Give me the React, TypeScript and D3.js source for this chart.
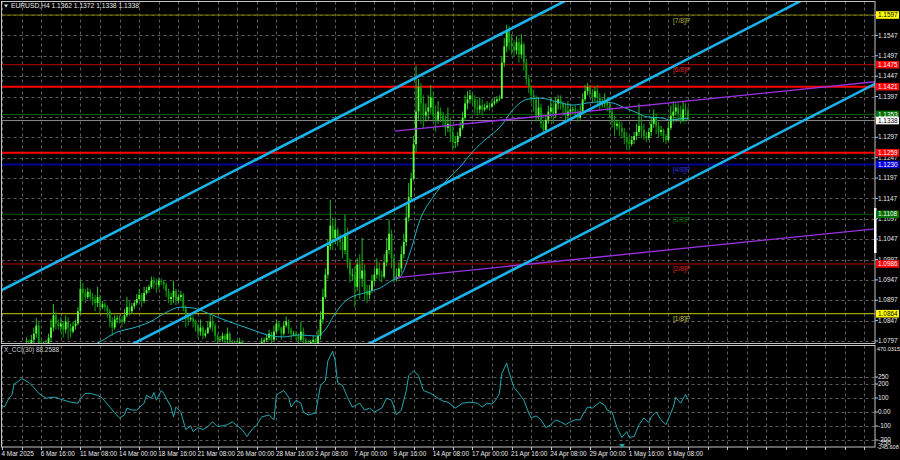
import React from "react";
import * as d3 from "d3";

// ---------- DATA ----------
const symbolTitle = "EURUSD,H4  1.1362 1.1372 1.1338 1.1338";
const cciTitle = "X_CCI(30) 88.2588";
const firstOpen = 1.0485;

// H4 closes, one line per trading day (00,04,08,12,16,20)
const closes = [
  1.0490, 1.0530, 1.0565, 1.0600, 1.0615, 1.0625,
  1.0615, 1.0635, 1.0700, 1.0760, 1.0785, 1.0790,
  1.0800, 1.0815, 1.0835, 1.0790, 1.0780, 1.0785,
  1.0790, 1.0805, 1.0830, 1.0860, 1.0840, 1.0833,
  1.0840, 1.0825, 1.0845, 1.0830, 1.0820, 1.0833,
  1.0840, 1.0870, 1.0925, 1.0915, 1.0905, 1.0918,
  1.0905, 1.0900, 1.0890, 1.0905, 1.0880, 1.0887,
  1.0880, 1.0870, 1.0845, 1.0830, 1.0850, 1.0853,
  1.0850, 1.0845, 1.0860, 1.0880, 1.0870, 1.0882,
  1.0890, 1.0900, 1.0910, 1.0895, 1.0915, 1.0922,
  1.0930, 1.0945, 1.0940, 1.0935, 1.0945, 1.0942,
  1.0935, 1.0920, 1.0900, 1.0905, 1.0920, 1.0897,
  1.0905, 1.0910, 1.0880, 1.0855, 1.0850, 1.0853,
  1.0845, 1.0835, 1.0820, 1.0830, 1.0810, 1.0816,
  1.0830, 1.0845, 1.0835, 1.0810, 1.0800, 1.0801,
  1.0810, 1.0800, 1.0815, 1.0795, 1.0785, 1.0790,
  1.0790, 1.0795, 1.0780, 1.0765, 1.0755, 1.0752,
  1.0760, 1.0745, 1.0765, 1.0780, 1.0795, 1.0799,
  1.0805, 1.0815, 1.0800, 1.0820, 1.0840, 1.0830,
  1.0815, 1.0835, 1.0845, 1.0825, 1.0815, 1.0815,
  1.0810, 1.0800, 1.0820, 1.0800, 1.0790, 1.0790,
  1.0795, 1.0800, 1.0790, 1.0810, 1.0850, 1.0905,
  1.0960, 1.1030, 1.1080, 1.1050, 1.1070, 1.1050,
  1.1040, 1.1020, 1.1060, 1.0990, 1.0960, 1.0960,
  1.0930, 1.0985, 1.0950, 1.0970, 1.0920, 1.0910,
  1.0920, 1.0945, 1.0960, 1.0975, 1.0960, 1.0955,
  1.0990, 1.1020, 1.1060, 1.1000, 1.0950, 1.0955,
  1.0975, 1.1010, 1.1040, 1.1100, 1.1150, 1.1195,
  1.1280, 1.1360, 1.1420, 1.1380, 1.1350, 1.1360,
  1.1370, 1.1395, 1.1350, 1.1340, 1.1360, 1.1350,
  1.1340, 1.1320, 1.1330, 1.1310, 1.1285, 1.1285,
  1.1300, 1.1320, 1.1345, 1.1380, 1.1390, 1.1400,
  1.1390, 1.1370, 1.1365, 1.1375, 1.1365, 1.1370,
  1.1375, 1.1372, 1.1380, 1.1385, 1.1390, 1.1392,
  1.1480, 1.1520, 1.1560, 1.1530, 1.1520, 1.1510,
  1.1530, 1.1500, 1.1525, 1.1480, 1.1440, 1.1420,
  1.1400, 1.1390, 1.1350, 1.1370, 1.1330, 1.1315,
  1.1340, 1.1360, 1.1370, 1.1355, 1.1380, 1.1390,
  1.1380, 1.1370, 1.1350, 1.1360, 1.1365, 1.1365,
  1.1360, 1.1345, 1.1360, 1.1390, 1.1410, 1.1420,
  1.1405, 1.1395, 1.1410, 1.1395, 1.1380, 1.1380,
  1.1385, 1.1375, 1.1360, 1.1335, 1.1325, 1.1330,
  1.1320, 1.1310, 1.1295, 1.1285, 1.1280, 1.1290,
  1.1300, 1.1310, 1.1325, 1.1315, 1.1300, 1.1295,
  1.1310, 1.1330, 1.1345, 1.1325, 1.1310, 1.1315,
  1.1300, 1.1290, 1.1320, 1.1350, 1.1360, 1.1370,
  1.1355, 1.1340, 1.1365, 1.1362, 1.1338,
];

const highs = [
  1.0500, 1.0540, 1.0580, 1.0630, 1.0625, 1.0632,
  1.0630, 1.0645, 1.0710, 1.0790, 1.0806, 1.0800,
  1.0812, 1.0830, 1.0853, 1.0845, 1.0800, 1.0795,
  1.0800, 1.0815, 1.0850, 1.0888, 1.0870, 1.0850,
  1.0855, 1.0845, 1.0860, 1.0855, 1.0840, 1.0845,
  1.0850, 1.0880, 1.0947, 1.0940, 1.0925, 1.0928,
  1.0925, 1.0915, 1.0910, 1.0930, 1.0910, 1.0895,
  1.0892, 1.0885, 1.0875, 1.0855, 1.0860, 1.0860,
  1.0860, 1.0858, 1.0875, 1.0905, 1.0895, 1.0890,
  1.0895, 1.0912, 1.0925, 1.0915, 1.0930, 1.0930,
  1.0935, 1.0955, 1.0954, 1.0950, 1.0952, 1.0950,
  1.0947, 1.0940, 1.0925, 1.0915, 1.0945, 1.0925,
  1.0912, 1.0920, 1.0915, 1.0885, 1.0862, 1.0860,
  1.0860, 1.0850, 1.0840, 1.0850, 1.0835, 1.0825,
  1.0845, 1.0860, 1.0858, 1.0840, 1.0815, 1.0810,
  1.0818, 1.0815, 1.0830, 1.0820, 1.0800, 1.0798,
  1.0800, 1.0805, 1.0800, 1.0785, 1.0770, 1.0760,
  1.0765, 1.0762, 1.0770, 1.0790, 1.0805, 1.0805,
  1.0812, 1.0825, 1.0820, 1.0835, 1.0850, 1.0845,
  1.0832, 1.0845, 1.0857, 1.0850, 1.0830, 1.0822,
  1.0822, 1.0815, 1.0845, 1.0830, 1.0805, 1.0798,
  1.0800, 1.0810, 1.0805, 1.0825, 1.0870, 1.0925,
  1.0975, 1.1045, 1.1144, 1.1100, 1.1095, 1.1075,
  1.1060, 1.1050, 1.1107, 1.1075, 1.1000, 1.0975,
  1.0980, 1.1000, 1.1010, 1.1050, 1.0985, 1.0935,
  1.0935, 1.0960, 1.0975, 1.1000, 1.0990, 1.0970,
  1.1010, 1.1050, 1.1095, 1.1070, 1.1010, 1.0975,
  1.0990, 1.1030, 1.1060, 1.1130, 1.1185, 1.1210,
  1.1300, 1.1473, 1.1440, 1.1430, 1.1400, 1.1380,
  1.1400, 1.1425, 1.1410, 1.1375, 1.1385, 1.1370,
  1.1360, 1.1350, 1.1370, 1.1345, 1.1325, 1.1300,
  1.1310, 1.1335, 1.1360, 1.1400, 1.1410, 1.1413,
  1.1405, 1.1400, 1.1390, 1.1395, 1.1390, 1.1380,
  1.1385, 1.1382, 1.1390, 1.1395, 1.1398, 1.1400,
  1.1495, 1.1540, 1.1573, 1.1570, 1.1550, 1.1535,
  1.1545, 1.1540, 1.1550, 1.1530, 1.1490, 1.1450,
  1.1425, 1.1413, 1.1400, 1.1395, 1.1380, 1.1340,
  1.1350, 1.1375, 1.1395, 1.1385, 1.1395, 1.1400,
  1.1400, 1.1385, 1.1380, 1.1385, 1.1378, 1.1372,
  1.1375, 1.1365, 1.1375, 1.1405, 1.1425, 1.1430,
  1.1425, 1.1415, 1.1420, 1.1425, 1.1405, 1.1392,
  1.1405, 1.1395, 1.1385, 1.1370, 1.1350, 1.1340,
  1.1340, 1.1335, 1.1320, 1.1310, 1.1300, 1.1300,
  1.1310, 1.1330, 1.1380, 1.1350, 1.1330, 1.1310,
  1.1320, 1.1345, 1.1365, 1.1355, 1.1335, 1.1325,
  1.1318, 1.1305, 1.1335, 1.1375, 1.1385, 1.1380,
  1.1380, 1.1375, 1.1385, 1.1380, 1.1372,
];

const lows = [
  1.0470, 1.0485, 1.0520, 1.0560, 1.0590, 1.0605,
  1.0600, 1.0605, 1.0630, 1.0695, 1.0750, 1.0775,
  1.0780, 1.0790, 1.0805, 1.0778, 1.0765, 1.0772,
  1.0775, 1.0780, 1.0795, 1.0820, 1.0825, 1.0825,
  1.0820, 1.0805, 1.0815, 1.0800, 1.0805, 1.0815,
  1.0825, 1.0835, 1.0865, 1.0895, 1.0890, 1.0900,
  1.0895, 1.0885, 1.0870, 1.0880, 1.0865, 1.0875,
  1.0870, 1.0855, 1.0830, 1.0810, 1.0825, 1.0840,
  1.0840, 1.0830, 1.0840, 1.0855, 1.0860, 1.0865,
  1.0875, 1.0885, 1.0895, 1.0880, 1.0890, 1.0910,
  1.0915, 1.0925, 1.0925, 1.0915, 1.0925, 1.0935,
  1.0925, 1.0905, 1.0890, 1.0885, 1.0890, 1.0885,
  1.0890, 1.0895, 1.0870, 1.0830, 1.0835, 1.0845,
  1.0830, 1.0820, 1.0805, 1.0810, 1.0800, 1.0805,
  1.0815, 1.0825, 1.0820, 1.0795, 1.0790, 1.0795,
  1.0795, 1.0785, 1.0790, 1.0780, 1.0775, 1.0780,
  1.0780, 1.0782, 1.0760, 1.0745, 1.0745, 1.0745,
  1.0745, 1.0733, 1.0740, 1.0760, 1.0775, 1.0790,
  1.0795, 1.0798, 1.0790, 1.0795, 1.0815, 1.0822,
  1.0800, 1.0810, 1.0830, 1.0815, 1.0800, 1.0808,
  1.0800, 1.0785, 1.0795, 1.0785, 1.0780, 1.0783,
  1.0780, 1.0785, 1.0778, 1.0785, 1.0800, 1.0840,
  1.0900, 1.0950, 1.1020, 1.1020, 1.1035, 1.1030,
  1.1020, 1.1000, 1.1010, 1.0975, 1.0940, 1.0945,
  1.0880, 1.0920, 1.0900, 1.0930, 1.0895, 1.0890,
  1.0900, 1.0915, 1.0935, 1.0950, 1.0945, 1.0940,
  1.0950, 1.0980, 1.1010, 1.0975, 1.0940, 1.0943,
  1.0950, 1.0965, 1.1000, 1.1030, 1.1090, 1.1140,
  1.1190, 1.1260, 1.1340, 1.1330, 1.1320, 1.1335,
  1.1340, 1.1355, 1.1335, 1.1310, 1.1330, 1.1335,
  1.1325, 1.1300, 1.1310, 1.1285, 1.1265, 1.1270,
  1.1275, 1.1295, 1.1315, 1.1340, 1.1365, 1.1380,
  1.1375, 1.1355, 1.1350, 1.1355, 1.1350, 1.1360,
  1.1365, 1.1362, 1.1368, 1.1375, 1.1380, 1.1385,
  1.1390, 1.1470, 1.1505, 1.1510, 1.1500, 1.1495,
  1.1500, 1.1480, 1.1490, 1.1460, 1.1425, 1.1405,
  1.1380, 1.1360, 1.1335, 1.1340, 1.1320, 1.1305,
  1.1310, 1.1330, 1.1350, 1.1330, 1.1345, 1.1365,
  1.1365, 1.1350, 1.1335, 1.1340, 1.1350, 1.1355,
  1.1345, 1.1335, 1.1340, 1.1355, 1.1385, 1.1400,
  1.1395, 1.1380, 1.1385, 1.1375, 1.1365, 1.1370,
  1.1370, 1.1360, 1.1345, 1.1320, 1.1300, 1.1315,
  1.1300, 1.1295, 1.1280, 1.1265, 1.1266, 1.1275,
  1.1280, 1.1290, 1.1300, 1.1295, 1.1290, 1.1285,
  1.1290, 1.1300, 1.1320, 1.1305, 1.1295, 1.1300,
  1.1285, 1.1280, 1.1285, 1.1315, 1.1335, 1.1350,
  1.1340, 1.1330, 1.1335, 1.1350, 1.1338,
];

// Moving average (bar index, price)
const maBars = [30, 40, 47, 53.5, 60.4, 67.3, 72.7, 78, 83.7, 89, 94.3, 102.4, 108.2, 114.7, 121.6, 128.6, 132.7, 135.1, 140.8, 149, 154.3, 159.6, 162.4, 166.5, 170.6, 175.9, 181.6, 186.9, 192.2, 198, 203.3, 208.6, 214.3, 219.6, 226.5, 233, 238.8, 244.1, 249.4, 253.5, 259.2, 263.3, 269.8, 272.7, 276.7, 280];
const maValues = [1.0770, 1.0795, 1.0819, 1.0829, 1.0844, 1.0868, 1.0880, 1.0878, 1.0866, 1.0853, 1.0841, 1.0824, 1.0812, 1.0807, 1.0812, 1.0809, 1.0831, 1.0856, 1.0898, 1.0917, 1.0927, 1.0947, 1.0954, 1.1013, 1.1094, 1.1150, 1.1192, 1.1224, 1.1262, 1.1295, 1.1322, 1.1365, 1.1390, 1.1393, 1.1384, 1.1376, 1.1381, 1.1384, 1.1381, 1.1371, 1.1357, 1.1347, 1.1344, 1.1339, 1.1342, 1.1344];

// CCI(30) (bar index, value)
const cciBars = [-1, 1, 3, 4, 5, 6, 8, 9, 11, 13, 15, 18, 20, 22, 24, 28, 31, 32, 34, 36, 39, 41, 44, 46, 48, 50, 51, 53, 55, 58, 59, 61, 62, 63, 65, 66, 69, 70, 71, 73, 75, 77, 78, 80, 82, 84, 86, 88, 90, 92, 94, 96, 98, 100, 102, 104, 106, 109, 111, 112, 113, 115, 117, 118, 120, 122, 123, 125, 128, 130, 132, 133, 135, 136, 137, 139, 141, 143, 146, 148, 150, 152, 155, 157, 159, 161, 163, 165, 166, 168, 170, 172, 175, 178, 180, 182, 185, 188, 191, 194, 196, 198, 200, 202, 203, 204, 206, 207, 209, 211, 213, 215, 216, 218, 220, 222, 224, 226, 228, 230, 232, 234, 236, 237, 239, 241, 244, 246, 247, 249, 251, 253, 255, 256, 258, 260, 262, 264, 265, 267, 269, 271, 273, 274, 275, 277, 279, 280];
const cciValues = [63, 35, 105, 119, 203, 210, 238, 231, 210, 175, 133, 98, 105, 105, 91, 70, 63, 98, 133, 133, 119, 98, 35, -7, -42, -21, 28, 14, 14, 63, 119, 98, 140, 84, 154, 133, 35, -35, 35, 0, -126, -98, -140, -112, -126, -105, -70, -105, -98, -91, -70, -98, -126, -175, -126, -91, -35, -21, -56, 119, 133, 154, 105, 35, 84, 63, 0, -21, -7, 189, 224, 364, 434, 364, 210, 189, 105, 35, 63, 14, 28, 0, 28, 98, 84, -21, 14, 154, 259, 294, 259, 154, 133, 98, 77, 70, 28, 63, 70, 63, 35, 63, 56, 98, 133, 273, 350, 280, 175, 133, 84, -7, -42, -28, -56, -112, -91, -56, -70, -91, -70, -56, -56, -21, 35, 28, 70, 49, 14, 0, -112, -182, -140, -182, -175, -91, -42, -77, -35, 0, -56, -91, -7, 35, 105, 63, 126, 88];

// time axis labels, one every 16 bars
const timeLabels = ["4 Mar 2025", "6 Mar 16:00", "11 Mar 08:00", "14 Mar 00:00", "18 Mar 16:00", "21 Mar 08:00", "26 Mar 00:00", "28 Mar 16:00", "2 Apr 08:00", "7 Apr 00:00", "9 Apr 16:00", "14 Apr 08:00", "17 Apr 00:00", "21 Apr 16:00", "24 Apr 08:00", "29 Apr 00:00", "1 May 16:00", "6 May 08:00"];

// price grid levels; only the labels not hidden under a level box are printed
const priceTicks = [1.0797, 1.0847, 1.0897, 1.0947, 1.0997, 1.1047, 1.1097, 1.1147, 1.1197, 1.1247, 1.1297, 1.1347, 1.1397, 1.1447, 1.1497, 1.1547, 1.1597];
const priceTickLabels = [1.0797, 1.0847, 1.0897, 1.0947, 1.0997, 1.1047, 1.1097, 1.1147, 1.1197, 1.1247, 1.1297, 1.1397, 1.1447, 1.1497, 1.1547];
const cciTicks = [250, 200, 100, 0, -100, -200];
const cciTickLabels = ["250", "200", "100", "0.00", "-100", "-200"];
const cciTopLabel = "470.0315";
const cciBottomLabels = ["-250", "-245.608"];

// Murrey levels
const murreyLevels = [1.1597, 1.1475, 1.1353, 1.1230, 1.1108, 1.0986, 1.0864];
const murreyNames = ["[7/8]P", "[6/8]P", "[5/8]P", "[4/8]P", "[3/8]P", "[2/8]P", "[1/8]P"];
const murreyLineColors = ["#7a7a00", "#c00000", "#006400", "#000094", "#005800", "#b00000", "#c8c800"];
const murreyLabelColors = ["#b4b440", "#e02424", "#0a7a0a", "#3434e8", "#0c6e0c", "#e02424", "#c4c450"];
const murreyBoxColors = ["#ffff00", "#ff0000", "#007000", "#0000e0", "#007000", "#ff0000", "#ffff00"];
const murreyBoxText = ["#000", "#fff", "#fff", "#fff", "#fff", "#fff", "#000"];
const murreyWidths = [1, 1, 1, 2, 1, 1, 1];

// support / resistance lines
const srLevels = [1.1421, 1.1259];
const bidPrice = 1.1338;

// channel (3 parallel lines) anchored at bar 0 and bar 230
const channelBars = [0, 230];
const channelStart = [1.0922, 1.0625, 1.0328];
const channelEnd = [1.1632, 1.1335, 1.1038];

// purple trend lines
const purpleBars = [160.4, 355.9];
const purpleStart = [1.1312, 1.0952];
const purpleEnd = [1.1433, 1.1072];

// ---------- CHART ----------
const FONT = "'Liberation Sans', Arial, sans-serif";
const FS = 6.4;
const TXT = "#e8e8e8";
const GRID = "#5c5c5c";

export default function App() {
  const x = d3.scaleLinear().domain([0, 356]).range([2, 2 + 356 * 2.45]);
  const yP = d3.scaleLinear().domain([1.0797, 1.1597]).range([341, 15]);
  const yC = d3.scaleLinear().domain([-250, 478.6]).range([447, 345]);

  const L = 1.5, R = 875, MT = 1.5, MB = 343.5, CT = 345.5, CB = 447;

  const candles = closes.map((c, i) => {
    const o = i === 0 ? firstOpen : closes[i - 1];
    const h = Math.max(highs[i], o, c);
    const l = Math.min(lows[i], o, c);
    return { i, o, h, l, c };
  });

  const maLine = d3
    .line<number>()
    .x((_, k) => x(maBars[k]))
    .y((v) => yP(v))
    .curve(d3.curveMonotoneX);
  const cciLine = d3
    .line<number>()
    .x((_, k) => x(cciBars[k]))
    .y((v) => yC(v));

  const gridBars = d3.range(0, 357, 8);

  const extend = (b0: number, p0: number, b1: number, p1: number, b: number) =>
    p0 + ((p1 - p0) * (b - b0)) / (b1 - b0);

  const bullBody = "#5cff3c";
  const bearBody = "#0c9c0c";
  const wickCol = "#1fc41f";

  return (
    <svg
      width={900}
      height={460}
      style={{ position: "absolute", left: 0, top: 0, background: "#000", display: "block" }}
      fontFamily={FONT}
      fontSize={FS}
    >
      <defs>
        <clipPath id="mainClip">
          <rect x={L} y={MT} width={R - L} height={MB - MT} />
        </clipPath>
        <clipPath id="cciClip">
          <rect x={L} y={CT} width={R - L} height={CB - CT} />
        </clipPath>
      </defs>
      <rect x={0} y={0} width={900} height={460} fill="#000" />

      {/* main grid */}
      <g clipPath="url(#mainClip)" stroke={GRID} strokeWidth={1} strokeDasharray="3,3">
        {priceTicks.map((p) => (
          <line key={"h" + p} x1={L} x2={R} y1={Math.round(yP(p)) + 0.5} y2={Math.round(yP(p)) + 0.5} />
        ))}
        {gridBars.map((b) => (
          <line key={"v" + b} x1={Math.round(x(b)) + 0.5} x2={Math.round(x(b)) + 0.5} y1={MT} y2={MB} />
        ))}
      </g>

      {/* cci grid */}
      <g clipPath="url(#cciClip)" stroke={GRID} strokeWidth={1} strokeDasharray="3,3">
        {cciTicks.map((v) => (
          <line key={"ch" + v} x1={L} x2={R} y1={Math.round(yC(v)) + 0.5} y2={Math.round(yC(v)) + 0.5} />
        ))}
        {gridBars.map((b) => (
          <line key={"cv" + b} x1={Math.round(x(b)) + 0.5} x2={Math.round(x(b)) + 0.5} y1={CT} y2={CB} />
        ))}
      </g>

      <g clipPath="url(#mainClip)">
        {/* murrey levels */}
        {murreyLevels.map((p, k) => (
          <line key={"m" + k} x1={L} x2={R} y1={yP(p)} y2={yP(p)} stroke={murreyLineColors[k]} strokeWidth={murreyWidths[k]} />
        ))}
        {murreyLevels.map((p, k) => (
          <text key={"mt" + k} x={673} y={yP(p) + 7.5} fill={murreyLabelColors[k]} fontSize={6.6}>
            {murreyNames[k]}
          </text>
        ))}
        {/* support / resistance */}
        {srLevels.map((p) => (
          <line key={"sr" + p} x1={L} x2={R} y1={yP(p)} y2={yP(p)} stroke="#ff0000" strokeWidth={2} />
        ))}
        {/* bid line */}
        <line x1={L} x2={R} y1={yP(bidPrice)} y2={yP(bidPrice)} stroke="#8a8a8a" strokeWidth={1} />

        {/* candles */}
        {candles.map((d) => {
          const cx = x(d.i);
          const top = yP(Math.max(d.o, d.c));
          const bot = yP(Math.min(d.o, d.c));
          const up = d.c >= d.o;
          return (
            <g key={"c" + d.i}>
              <line x1={cx} x2={cx} y1={yP(d.h)} y2={yP(d.l)} stroke={up ? wickCol : bearBody} strokeWidth={1} />
              <rect x={cx - 0.9} y={top} width={1.8} height={Math.max(0.8, bot - top)} fill={up ? bullBody : bearBody} />
            </g>
          );
        })}

        {/* moving average */}
        <path d={maLine(maValues) || ""} fill="none" stroke="#22b4c4" strokeWidth={1} />

        {/* purple trend lines */}
        {purpleStart.map((p0, k) => (
          <line
            key={"pl" + k}
            x1={x(purpleBars[0])}
            y1={yP(p0)}
            x2={x(360)}
            y2={yP(extend(purpleBars[0], p0, purpleBars[1], purpleEnd[k], 360))}
            stroke="#9b30e0"
            strokeWidth={1.4}
          />
        ))}

        {/* channel lines */}
        {channelStart.map((p0, k) => (
          <line
            key={"ch" + k}
            x1={x(-5)}
            y1={yP(extend(channelBars[0], p0, channelBars[1], channelEnd[k], -5))}
            x2={x(360)}
            y2={yP(extend(channelBars[0], p0, channelBars[1], channelEnd[k], 360))}
            stroke="#1ab4ec"
            strokeWidth={2.6}
          />
        ))}
      </g>

      {/* CCI line */}
      <g clipPath="url(#cciClip)">
        <path d={cciLine(cciValues) || ""} fill="none" stroke="#23a9b1" strokeWidth={1} />
      </g>

      {/* frames */}
      <rect x={L} y={MT} width={R - L} height={MB - MT} fill="none" stroke="#c4c4c4" strokeWidth={1} />
      <rect x={L} y={CT} width={R - L} height={CB - CT} fill="none" stroke="#c4c4c4" strokeWidth={1} />
      <rect x={874} y={208} width={2.5} height={45} fill="#ffffff" />

      {/* titles */}
      <path d="M4,4.5 L8,4.5 L6,7.5 Z" fill="#e0e0e0" />
      <text x={11} y={8.3} fill={TXT} fontSize={6.7}>{symbolTitle}</text>
      <text x={4} y={352.3} fill="#cfcfcf">{cciTitle}</text>

      {/* price axis */}
      {priceTicks.map((p) => (
        <line key={"ptk" + p} x1={R} x2={R + 3} y1={yP(p)} y2={yP(p)} stroke="#c4c4c4" />
      ))}
      {priceTickLabels.map((p) => (
        <text key={"pt" + p} x={878} y={yP(p) + 2.2} fill={TXT}>{p.toFixed(4)}</text>
      ))}

      {/* murrey / SR / bid boxes */}
      {murreyLevels.map((p, k) => (
        <g key={"mb" + k}>
          <rect x={876} y={yP(p) - 3.8} width={23} height={7.6} fill={murreyBoxColors[k]} />
          <text x={878} y={yP(p) + 2.2} fill={murreyBoxText[k]}>{p.toFixed(4)}</text>
        </g>
      ))}
      {srLevels.map((p) => (
        <g key={"sb" + p}>
          <rect x={876} y={yP(p) - 3.8} width={23} height={7.6} fill="#ff0000" />
          <text x={878} y={yP(p) + 2.2} fill="#fff">{p.toFixed(4)}</text>
        </g>
      ))}
      <rect x={876} y={yP(bidPrice) - 3.8} width={23} height={7.6} fill="#ffffff" />
      <text x={878} y={yP(bidPrice) + 2.2} fill="#000">{bidPrice.toFixed(4)}</text>

      {/* cci axis */}
      <text x={877} y={350.5} fill={TXT} fontSize={5.5}>{cciTopLabel}</text>
      {cciTicks.map((v, k) => (
        <g key={"ct" + v}>
          <line x1={R} x2={R + 3} y1={yC(v)} y2={yC(v)} stroke="#c4c4c4" />
          <text x={878} y={yC(v) + 2.2} fill={TXT}>{cciTickLabels[k]}</text>
        </g>
      ))}
      <text x={878} y={445} fill={TXT}>{cciBottomLabels[0]}</text>
      <text x={877} y={448.5} fill={TXT} fontSize={5.5}>{cciBottomLabels[1]}</text>

      {/* time axis */}
      {gridBars.map((b) => (
        <line key={"tt" + b} x1={Math.round(x(b)) + 0.5} x2={Math.round(x(b)) + 0.5} y1={CB} y2={CB + 3} stroke="#c4c4c4" />
      ))}
      {timeLabels.map((t, k) => (
        <text key={"tl" + k} x={x(k * 16) - 0.5} y={455.5} fill={TXT}>{t}</text>
      ))}
      <path d="M619,444 L625,444 L622,448 Z" fill="#1fa8a8" />
    </svg>
  );
}
